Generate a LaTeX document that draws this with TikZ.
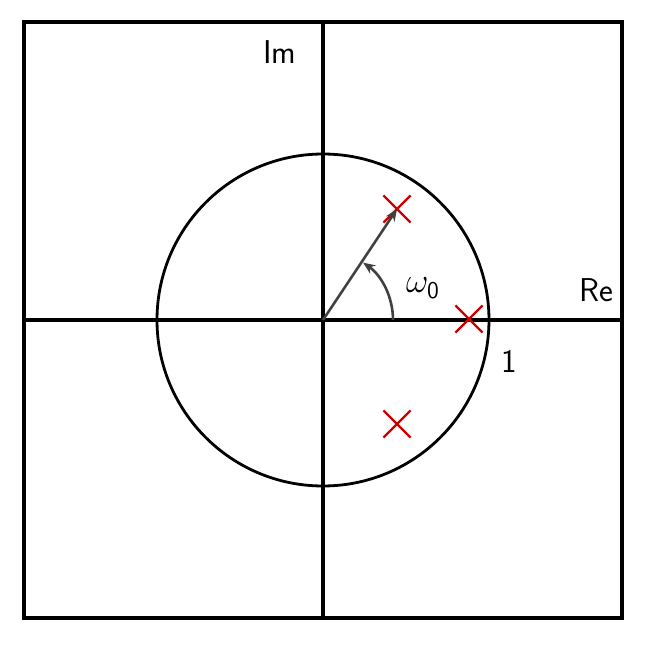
\documentclass[tikz,border=0pt]{standalone}
\usetikzlibrary{arrows.meta,shapes.misc}
\begin{document}
\begin{tikzpicture}[x=0.5pt,y=0.5pt,
  frame/.style={line width=2pt},
  unitcirc/.style={line width=1.4pt},
  pole/.style={cross out,draw=red!80!black,line width=1.1pt,minimum size=12.5pt,inner sep=0pt},
  vec/.style={draw=black!75,line width=1.3pt,-{Stealth[length=6pt,width=5pt]}},
  lbl/.style={font=\sffamily\fontsize{16.5}{19}\selectfont,inner sep=0pt}]
\useasboundingbox (0,0) rectangle (661,645);
\coordinate (O) at (323,325);
\coordinate (BL) at (24,27);
\coordinate (TR) at (622,623);
\coordinate (L) at (24,325);
\coordinate (R) at (622,325);
\coordinate (B) at (323,27);
\coordinate (T) at (323,623);
\draw[frame] (BL) rectangle (TR);
\draw[frame] (L) -- (R);
\draw[frame] (B) -- (T);
\draw[unitcirc] (O) circle (166);
\node[pole] (p1) at (397,436) {};
\node[pole] (p2) at (469,326) {};
\node[pole] (p3) at (397,221) {};
\draw[vec] (O) -- (p1.center);
\coordinate (a0) at (393,325);
\draw[vec] (a0) arc[start angle=0,end angle=55,radius=70];
\node[lbl] (w) at (423,357) {$\omega_{\mathsf{0}}$};
\node[lbl] (im) at (280,593) {Im};
\node[lbl] (re) at (596,355) {Re};
\node[lbl] (one) at (509,284) {1};
\end{tikzpicture}
\end{document}
